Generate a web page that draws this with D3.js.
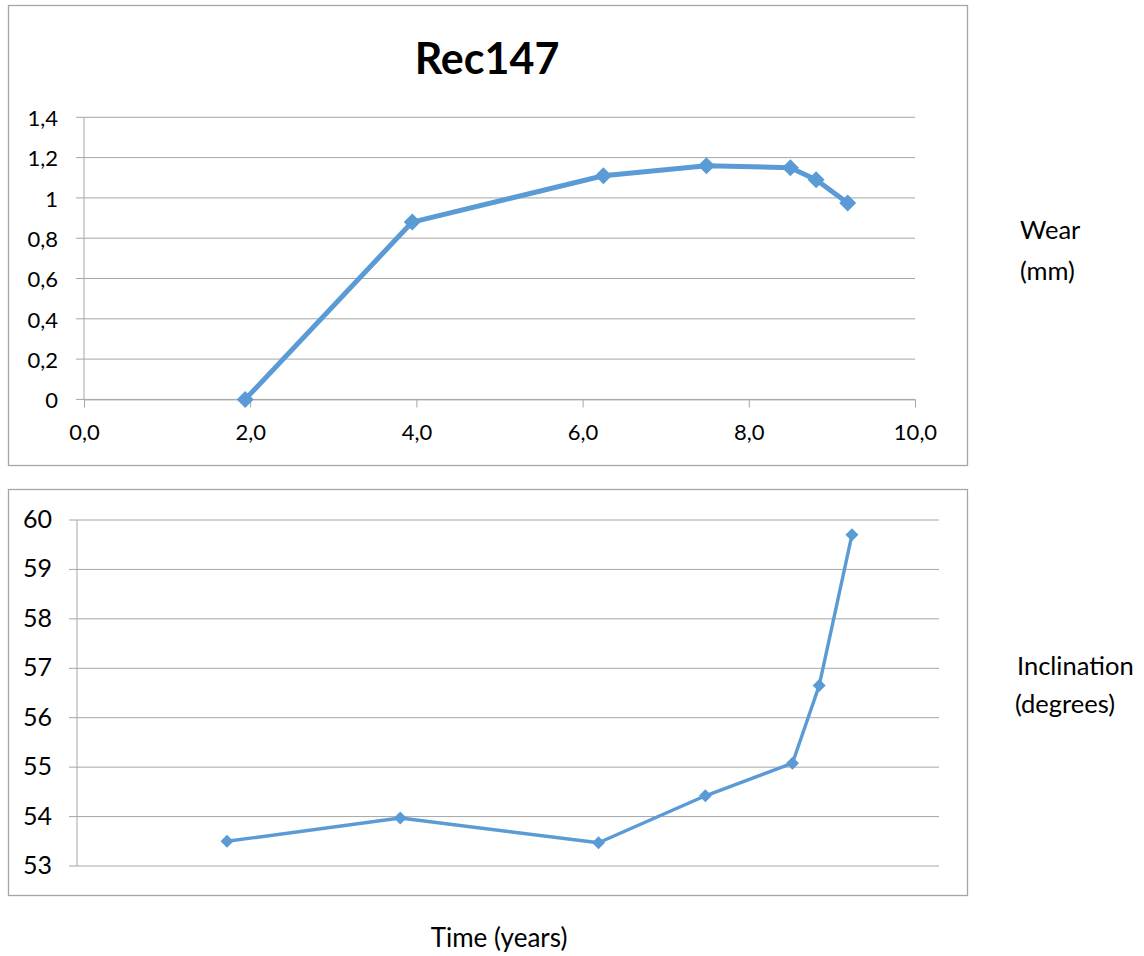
<!DOCTYPE html>
<html>
<head>
<meta charset="utf-8">
<script src="https://cdn.jsdelivr.net/npm/d3@7"></script>
<style>
  html, body { margin: 0; padding: 0; background: #ffffff; }
  svg { display: block; font-family: Lato, "Open Sans", sans-serif; }
</style>
</head>
<body>
<svg id="chart" width="1144" height="956"></svg>
<script>
// Record Rec147: measurement times (years) with wear and inclination
const times = [1.94, 3.95, 6.25, 7.49, 8.50, 8.81, 9.19];
const wear = [0.00, 0.88, 1.11, 1.16, 1.15, 1.09, 0.975];
const inclination = [53.50, 53.97, 53.47, 54.42, 55.08, 56.65, 59.70];

const wearTicks = [0, 0.2, 0.4, 0.6, 0.8, 1.0, 1.2, 1.4];
const timeTicks = [0, 2, 4, 6, 8, 10];
const inclinationTicks = [53, 54, 55, 56, 57, 58, 59, 60];

const title = "Rec147";
const wearLabel = ["Wear", "(mm)"];
const inclinationLabel = ["Inclination", "(degrees)"];
const timeLabel = "Time (years)";

const blue = "#5B9BD5";
const gridColor = "#A6A6A6";
const frameColor = "#A6A6A6";
const textColor = "#000000";

const commaNum = (d, digits) => d3.format(digits ? "." + digits + "f" : "")(d).replace(".", ",");

const svg = d3.select("#chart");

function diamond(g, pts, half, color) {
  const s = half * Math.SQRT2;
  g.selectAll("path.marker").data(pts).join("path")
    .attr("class", "marker")
    .attr("d", d3.symbol(d3.symbolSquare, s * s)())
    .attr("transform", d => `translate(${d[0]},${d[1]}) rotate(45)`)
    .attr("fill", color);
}

// ---------- Upper panel: wear ----------
const wearBox = { x0: 84, x1: 915, y0: 117.3, y1: 399.4 };
svg.append("rect").attr("x", 8.5).attr("y", 5.5).attr("width", 959).attr("height", 460)
  .attr("fill", "#fff").attr("stroke", frameColor).attr("stroke-width", 1.3);

const xTop = d3.scaleLinear().domain([0, 10]).range([wearBox.x0, wearBox.x1]);
const yTop = d3.scaleLinear().domain([0, 1.4]).range([wearBox.y1, wearBox.y0]);

const gTop = svg.append("g");
gTop.append("g").selectAll("line").data(wearTicks).join("line")
  .attr("x1", wearBox.x0 - 8).attr("x2", wearBox.x1)
  .attr("y1", d => yTop(d)).attr("y2", d => yTop(d))
  .attr("stroke", gridColor).attr("stroke-width", 1);

gTop.append("line").attr("x1", wearBox.x0).attr("x2", wearBox.x0)
  .attr("y1", wearBox.y0).attr("y2", wearBox.y1)
  .attr("stroke", gridColor).attr("stroke-width", 1);

const yAxisTop = gTop.append("g").attr("transform", `translate(${wearBox.x0},0)`)
  .call(d3.axisLeft(yTop).tickValues(wearTicks).tickSize(0).tickPadding(26)
    .tickFormat(d => commaNum(+d.toFixed(1))));
yAxisTop.select(".domain").remove();
yAxisTop.selectAll("text").attr("font-size", 22).attr("font-family", "Lato")
  .attr("fill", textColor).attr("dy", "0.38em");

const xAxisTop = gTop.append("g").attr("transform", `translate(0,${wearBox.y1})`)
  .call(d3.axisBottom(xTop).tickValues(timeTicks).tickSizeInner(8).tickSizeOuter(0)
    .tickFormat(d => commaNum(d, 1)));
xAxisTop.select(".domain").attr("stroke", gridColor);
xAxisTop.selectAll(".tick line").attr("stroke", gridColor);
xAxisTop.selectAll("text").attr("font-size", 22).attr("font-family", "Lato")
  .attr("fill", textColor).attr("y", 41).attr("dy", null);

const wearPts = times.map((t, i) => [xTop(t), yTop(wear[i])]);
gTop.append("path").attr("d", d3.line()(wearPts))
  .attr("fill", "none").attr("stroke", blue).attr("stroke-width", 5)
  .attr("stroke-linejoin", "round");
diamond(gTop, wearPts, 8.5, blue);

svg.append("text").attr("x", 487).attr("y", 74).attr("text-anchor", "middle")
  .attr("font-size", 43).attr("font-weight", "bold").attr("fill", textColor).text(title);

// ---------- Lower panel: inclination ----------
const inclBox = { x0: 77, x1: 939, y0: 520, y1: 866 };
svg.append("rect").attr("x", 8.5).attr("y", 489.5).attr("width", 959).attr("height", 406)
  .attr("fill", "#fff").attr("stroke", frameColor).attr("stroke-width", 1.3);

const xBot = d3.scaleLinear().domain([0.2, 10.2]).range([inclBox.x0, inclBox.x1]);
const yBot = d3.scaleLinear().domain([53, 60]).range([inclBox.y1, inclBox.y0]);

const gBot = svg.append("g");
gBot.append("g").selectAll("line").data(inclinationTicks).join("line")
  .attr("x1", inclBox.x0 - 8).attr("x2", inclBox.x1)
  .attr("y1", d => yBot(d)).attr("y2", d => yBot(d))
  .attr("stroke", gridColor).attr("stroke-width", 1);
gBot.append("line").attr("x1", inclBox.x0).attr("x2", inclBox.x0)
  .attr("y1", inclBox.y0).attr("y2", inclBox.y1)
  .attr("stroke", gridColor).attr("stroke-width", 1);

const yAxisBot = gBot.append("g").attr("transform", `translate(${inclBox.x0},0)`)
  .call(d3.axisLeft(yBot).tickValues(inclinationTicks).tickSize(0).tickPadding(25)
    .tickFormat(d3.format("d")));
yAxisBot.select(".domain").remove();
yAxisBot.selectAll("text").attr("font-size", 25).attr("font-family", "Lato")
  .attr("fill", textColor).attr("dy", "0.30em");

const inclPts = times.map((t, i) => [xBot(t), yBot(inclination[i])]);
gBot.append("path").attr("d", d3.line()(inclPts))
  .attr("fill", "none").attr("stroke", blue).attr("stroke-width", 3.4)
  .attr("stroke-linejoin", "round");
diamond(gBot, inclPts, 6.5, blue);

// ---------- Side and bottom titles ----------
const side = svg.append("g").attr("font-size", 25.5).attr("fill", textColor);
side.append("text").attr("x", 1020).attr("y", 239).text(wearLabel[0]);
side.append("text").attr("x", 1020).attr("y", 280).text(wearLabel[1]);
side.append("text").attr("x", 1017).attr("y", 675).text(inclinationLabel[0]);
side.append("text").attr("x", 1015).attr("y", 713).text(inclinationLabel[1]);

svg.append("text").attr("x", 499).attr("y", 947).attr("text-anchor", "middle")
  .attr("font-size", 26).attr("fill", textColor).text(timeLabel);
</script>
</body>
</html>
